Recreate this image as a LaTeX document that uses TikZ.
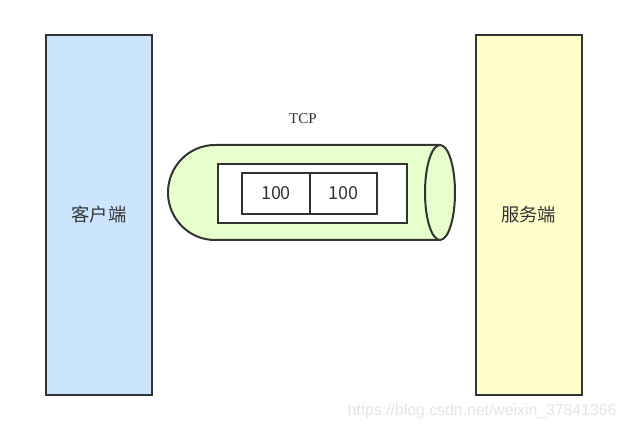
\documentclass[tikz,border=0pt]{standalone}
\usepackage{fontspec}
\setmainfont{Liberation Serif}
\newfontfamily\cjk{Noto Sans CJK SC}
\newfontfamily\wmfont{Liberation Sans}
\definecolor{linegray}{HTML}{333333}
\definecolor{clientblue}{HTML}{CCE5FF}
\definecolor{serveryellow}{HTML}{FFFFCC}
\definecolor{pipegreen}{HTML}{E6FFCC}
\tikzset{
  side/.style = {draw=linegray, line width=2pt, minimum width=106pt,
                 minimum height=360pt, inner sep=0pt, text=linegray,
                 font=\cjk\fontsize{18.3}{18.3}\selectfont},
  cell/.style = {draw=linegray, line width=2pt, fill=white, minimum width=#1,
                 minimum height=41pt, inner sep=0pt, text=linegray,
                 font=\cjk\fontsize{18}{18}\selectfont},
  cell/.default = 68pt
}

\begin{document}
\begin{tikzpicture}[x=1pt,y=1pt]
	\def \cy{237.5}  % pipe axis
	\def \ry{47.5}   % pipe radius
	\def \capx{47}   % left cap
	\def \endx{15}   % right ellipse

	\fill[white] (0,0) rectangle (627,430);
	\useasboundingbox (0,0) rectangle (627,430);

	% Client and server
	\node[side, fill=clientblue] (client) at (99,215) {客户端};
	\node[side, fill=serveryellow] (server) at (528.5,215) {服务端};

	% Pipe
	\draw[linegray, fill=pipegreen, line width=2pt]
		(440,\cy+\ry) -- (215,\cy+\ry)
		arc[start angle=90, end angle=270, x radius=\capx, y radius=\ry]
		-- (440,\cy-\ry);
	\draw[linegray, fill=pipegreen, line width=2pt]
		(440,\cy) ellipse[x radius=\endx, y radius=\ry];
	\node[font=\fontsize{15}{15}\selectfont, text=linegray] (tcp) at (303,311) {TCP};

	% Buffer
	\node[cell=189pt, minimum height=59pt] (buffer) at (312.5,236.5) {};
	\node[cell] (seg1) at (276,236.5) {100};
	\node[cell, minimum width=67pt] (seg2) at (343.5,236.5) {100};

	% Watermark
	\node[font=\wmfont\fontsize{15.8}{15.8}\selectfont, text=black!10] (mark) at (482,19) {https://blog.csdn.net/weixin\_37841366};
\end{tikzpicture}
\end{document}
